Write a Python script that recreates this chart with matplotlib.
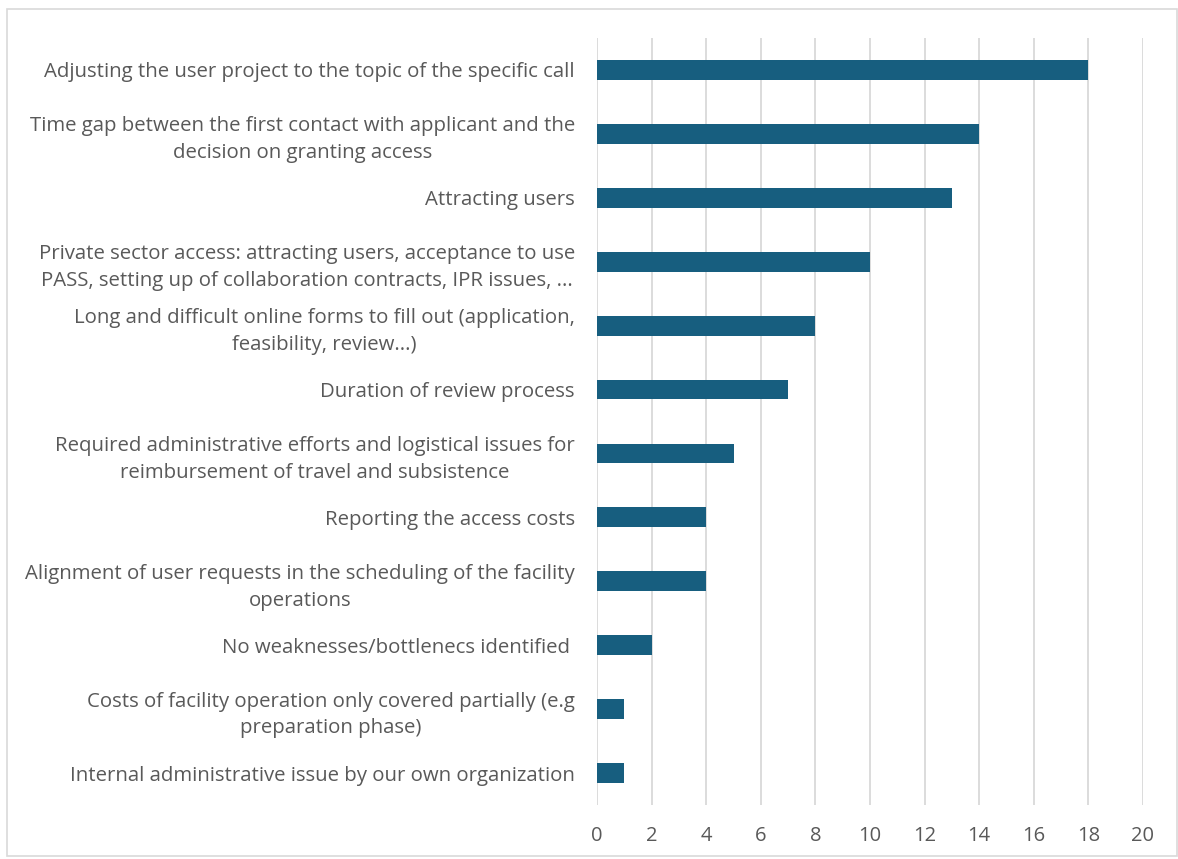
import matplotlib
matplotlib.use("Agg")
import matplotlib.pyplot as plt
from matplotlib.patches import Rectangle

categories = [
    "Adjusting the user project to the topic of the specific call",
    "Time gap between the first contact with applicant and the\ndecision on granting access",
    "Attracting users",
    "Private sector access: attracting users, acceptance to use\nPASS, setting up of collaboration contracts, IPR issues, ...",
    "Long and difficult online forms to fill out (application,\nfeasibility, review...)",
    "Duration of review process",
    "Required administrative efforts and logistical issues for\nreimbursement of travel and subsistence",
    "Reporting the access costs",
    "Alignment of user requests in the scheduling of the facility\noperations",
    "No weaknesses/bottlenecs identified ",
    "Costs of facility operation only covered partially (e.g\npreparation phase)",
    "Internal administrative issue by our own organization",
]
values = [18, 14, 13, 10, 8, 7, 5, 4, 4, 2, 1, 1]
xticks = [0, 2, 4, 6, 8, 10, 12, 14, 16, 18, 20]

W, H = 1178, 859
fig = plt.figure(figsize=(W / 100, H / 100), dpi=100)
fig.patches.append(Rectangle((7 / W, 3 / H), (W - 8) / W, (H - 12) / H,
                             transform=fig.transFigure, fill=False,
                             edgecolor="#d9d9d9", linewidth=1.2))

ax = fig.add_axes([597 / W, 1 - 805 / H, (1143 - 597) / W, (805 - 38) / H])
n = len(categories)
pos = list(range(n))
ax.barh(pos, values, height=0.31, color="#175E7F", zorder=3)
ax.set_ylim(n - 0.5, -0.5)
ax.set_xlim(0, 20)
ax.set_xticks(xticks)
ax.set_xticklabels([str(t) for t in xticks])
ax.set_yticks(pos)
ax.set_yticklabels(categories, multialignment="center")
for s in ax.spines.values():
    s.set_visible(False)
ax.grid(axis="x", color="#d9d9d9", linewidth=1.3, zorder=0)
ax.tick_params(axis="both", length=0, colors="#595959")
ax.tick_params(axis="y", pad=16, labelsize=14.7)
ax.tick_params(axis="x", pad=15, labelsize=14.5)
for lbl in ax.get_yticklabels() + ax.get_xticklabels():
    lbl.set_fontfamily("Open Sans")
    lbl.set_color("#595959")
for lbl in ax.get_yticklabels():
    lbl.set_linespacing(1.45)

fig.savefig("out.png", dpi=100)
